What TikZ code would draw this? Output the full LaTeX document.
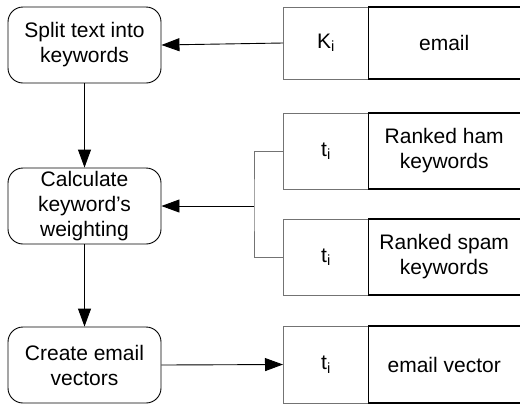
\documentclass[tikz,border=0pt]{standalone}
\usepackage{fontspec}
\setmainfont{Liberation Sans}
\usetikzlibrary{arrows.meta}
\tikzset{
  proc/.style={draw=black, line width=0.9bp, rounded corners=15bp, minimum width=153bp, minimum height=76bp, align=center, inner sep=0pt, font=\fontsize{21bp}{25bp}\selectfont},
  keycell/.style={draw=black!55, line width=1bp, minimum width=85bp, inner sep=0pt, anchor=west, font=\fontsize{21bp}{25bp}\selectfont},
  datacell/.style={minimum width=152bp, inner sep=0pt, anchor=west, align=center, font=\fontsize{21bp}{25bp}\selectfont},
  edge/.style={line width=1bp, draw=black!55},
  flow/.style={line width=0.9bp, -{Triangle[length=18bp,width=13bp]}},
  store/.style={line width=1.6bp},
  divider/.style={line width=0.9bp}
}
\begin{document}
\begin{tikzpicture}[x=1bp,y=-1bp]
\useasboundingbox (0,0) rectangle (521,404);
% process boxes
\node[proc] (split) at (84.5,45) {Split text into\\keywords};
\node[proc] (calc) at (84.5,206) {Calculate\\keyword’s\\weighting};
\node[proc] (create) at (84.5,365) {Create email\\vectors};
% data stores
\node[keycell, minimum height=72bp] (k1) at (283,43) {K\textsubscript{i}};
\node[datacell, minimum height=72bp] (d1) at (368,43) {email};
\node[keycell, minimum height=76bp] (k2) at (283,151) {t\textsubscript{i}};
\node[datacell, minimum height=76bp] (d2) at (368,151) {Ranked ham\\keywords};
\node[keycell, minimum height=76bp] (k3) at (283,257) {t\textsubscript{i}};
\node[datacell, minimum height=76bp] (d3) at (368,257) {Ranked spam\\keywords};
\node[keycell, minimum height=77bp] (k4) at (283,364.5) {t\textsubscript{i}};
\node[datacell, minimum height=77bp] (d4) at (368,364.5) {email vector};
\foreach \d in {d1,d2,d3,d4}{
  \draw[divider] (\d.north west) -- (\d.south west);
  \draw[store] (\d.north west) -- (\d.north east);
  \draw[store] (\d.south west) -- (\d.south east);
}
% connectors
\draw[flow] (k1.west) -- (split.east);
\draw[flow] (split.south) -- (calc.north);
\coordinate (br) at (254,206);
\draw[edge] (k2.west) -| (br) |- (k3.west);
\draw[flow] (br) -- (calc.east);
\draw[flow] (calc.south) -- (create.north);
\draw[flow] (create.east) -- (k4.west);
\end{tikzpicture}
\end{document}
